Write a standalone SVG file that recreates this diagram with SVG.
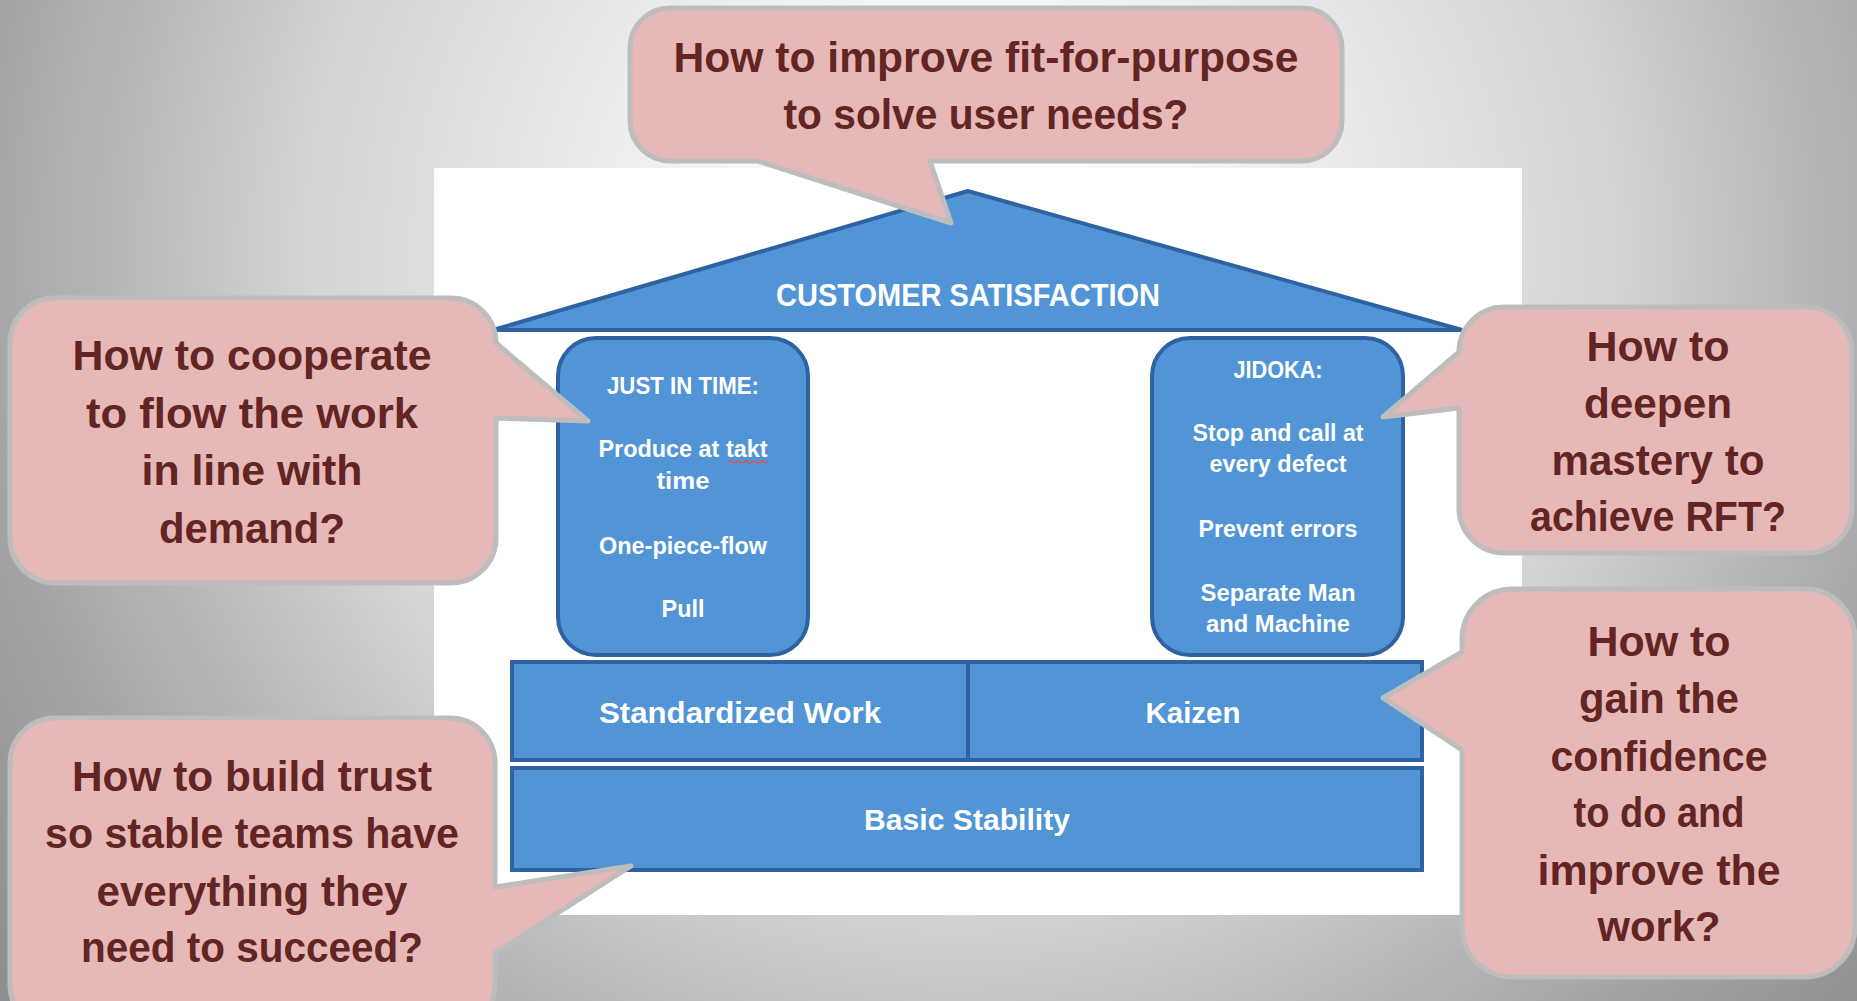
<svg xmlns="http://www.w3.org/2000/svg" width="1857" height="1001" viewBox="0 0 1857 1001">
  <defs>
    <radialGradient id="bg" gradientUnits="userSpaceOnUse" cx="960" cy="250" r="1220">
      <stop offset="0" stop-color="#ffffff"/>
      <stop offset="0.2" stop-color="#f6f6f6"/>
      <stop offset="0.36" stop-color="#e6e6e6"/>
      <stop offset="0.52" stop-color="#d6d6d6"/>
      <stop offset="0.81" stop-color="#a3a3a3"/>
      <stop offset="1" stop-color="#8e8e8e"/>
    </radialGradient>
    <style>
      .blue { fill: #5295d6; stroke: #2e62a0; stroke-width: 4; }
      .wt { fill: #ffffff; font-family: "Liberation Sans", Arial, sans-serif; font-weight: 700; text-anchor: middle; }
      .pt { font-size: 23px; }
      .rt { font-size: 30px; }
      .bubble { fill: #e6b8b7; stroke: #bdbdbd; stroke-width: 5; stroke-linejoin: round; }
      .bt { fill: #632523; font-family: "Liberation Sans", Arial, sans-serif; font-weight: 700; font-size: 43px; text-anchor: middle; }
    </style>
  </defs>

  <!-- backdrop -->
  <rect x="0" y="0" width="1857" height="1001" fill="url(#bg)"/>
  <rect x="434" y="168" width="1088" height="747" fill="#ffffff"/>

  <!-- house: roof -->
  <g id="roof">
    <polygon class="blue" points="968,191 493,330 1462,330"/>
    <text class="wt" x="968" y="306" font-size="31" textLength="384" lengthAdjust="spacingAndGlyphs">CUSTOMER SATISFACTION</text>
  </g>

  <!-- house: left pillar -->
  <g id="pillar-jit">
    <rect class="blue" x="558" y="338" width="250" height="317" rx="38" ry="38"/>
    <text class="wt pt" x="683" y="394" textLength="152" lengthAdjust="spacingAndGlyphs">JUST IN TIME:</text>
    <text class="wt pt" x="683" y="457" textLength="169" lengthAdjust="spacingAndGlyphs">Produce at takt</text>
    <path d="M728,462 q2,-2 4,0 t4,0 t4,0 t4,0 t4,0 t4,0 t4,0 t4,0 t4,0 t4,0" fill="none" stroke="#d9534f" stroke-width="1.3"/>
    <text class="wt pt" x="683" y="489" textLength="53" lengthAdjust="spacingAndGlyphs">time</text>
    <text class="wt pt" x="683" y="554" textLength="168" lengthAdjust="spacingAndGlyphs">One-piece-flow</text>
    <text class="wt pt" x="683" y="617" textLength="43" lengthAdjust="spacingAndGlyphs">Pull</text>
  </g>

  <!-- house: right pillar -->
  <g id="pillar-jidoka">
    <rect class="blue" x="1152" y="338" width="251" height="317" rx="38" ry="38"/>
    <text class="wt pt" x="1278" y="378" textLength="89" lengthAdjust="spacingAndGlyphs">JIDOKA:</text>
    <text class="wt pt" x="1278" y="441" textLength="171" lengthAdjust="spacingAndGlyphs">Stop and call at</text>
    <text class="wt pt" x="1278" y="472" textLength="137" lengthAdjust="spacingAndGlyphs">every defect</text>
    <text class="wt pt" x="1278" y="537" textLength="159" lengthAdjust="spacingAndGlyphs">Prevent errors</text>
    <text class="wt pt" x="1278" y="601" textLength="155" lengthAdjust="spacingAndGlyphs">Separate Man</text>
    <text class="wt pt" x="1278" y="632" textLength="144" lengthAdjust="spacingAndGlyphs">and Machine</text>
  </g>

  <!-- house: foundation rows -->
  <g id="standardized-work">
    <rect class="blue" x="512" y="662" width="456" height="98"/>
    <text class="wt rt" x="740" y="723" textLength="282" lengthAdjust="spacingAndGlyphs">Standardized Work</text>
  </g>
  <g id="kaizen">
    <rect class="blue" x="968" y="662" width="454" height="98"/>
    <text class="wt rt" x="1193" y="723" textLength="95" lengthAdjust="spacingAndGlyphs">Kaizen</text>
  </g>
  <g id="basic-stability">
    <rect class="blue" x="512" y="768" width="910" height="102"/>
    <text class="wt rt" x="967" y="830" textLength="206" lengthAdjust="spacingAndGlyphs">Basic Stability</text>
  </g>

  <g id="connectors"/>

  <!-- callouts -->
  <g id="callout-purpose">
    <path class="bubble" d="M670,8 H1302 A40,40 0 0 1 1342,48 V121 A40,40 0 0 1 1302,161 H930 L951,223 L758,161 H670 A40,40 0 0 1 630,121 V48 A40,40 0 0 1 670,8 Z"/>
    <text class="bt" x="986" y="72" textLength="625" lengthAdjust="spacingAndGlyphs">How to improve fit-for-purpose</text>
    <text class="bt" x="986" y="129" textLength="405" lengthAdjust="spacingAndGlyphs">to solve user needs?</text>
  </g>

  <g id="callout-flow">
    <path class="bubble" d="M55,298 H451 A45,45 0 0 1 496,343 L588,421 L496,418 V538 A45,45 0 0 1 451,583 H55 A45,45 0 0 1 10,538 V343 A45,45 0 0 1 55,298 Z"/>
    <text class="bt" x="252" y="370" textLength="359" lengthAdjust="spacingAndGlyphs">How to cooperate</text>
    <text class="bt" x="252" y="428" textLength="332" lengthAdjust="spacingAndGlyphs">to flow the work</text>
    <text class="bt" x="252" y="485" textLength="221" lengthAdjust="spacingAndGlyphs">in line with</text>
    <text class="bt" x="252" y="543" textLength="186" lengthAdjust="spacingAndGlyphs">demand?</text>
  </g>

  <g id="callout-mastery">
    <path class="bubble" d="M1504,307 H1807 A45,45 0 0 1 1852,352 V508 A45,45 0 0 1 1807,553 H1504 A45,45 0 0 1 1459,508 V408 L1383,417 L1459,352 A45,45 0 0 1 1504,307 Z"/>
    <text class="bt" x="1658" y="361" textLength="143" lengthAdjust="spacingAndGlyphs">How to</text>
    <text class="bt" x="1658" y="418" textLength="148" lengthAdjust="spacingAndGlyphs">deepen</text>
    <text class="bt" x="1658" y="475" textLength="213" lengthAdjust="spacingAndGlyphs">mastery to</text>
    <text class="bt" x="1658" y="531" textLength="256" lengthAdjust="spacingAndGlyphs">achieve RFT?</text>
  </g>

  <g id="callout-confidence">
    <path class="bubble" d="M1512,589 H1805 A50,50 0 0 1 1855,639 V927 A50,50 0 0 1 1805,977 H1512 A50,50 0 0 1 1462,927 V750 L1383,698 L1462,652 V639 A50,50 0 0 1 1512,589 Z"/>
    <text class="bt" x="1659" y="656" textLength="143" lengthAdjust="spacingAndGlyphs">How to</text>
    <text class="bt" x="1659" y="713" textLength="160" lengthAdjust="spacingAndGlyphs">gain the</text>
    <text class="bt" x="1659" y="771" textLength="217" lengthAdjust="spacingAndGlyphs">confidence</text>
    <text class="bt" x="1659" y="827" textLength="171" lengthAdjust="spacingAndGlyphs">to do and</text>
    <text class="bt" x="1659" y="885" textLength="243" lengthAdjust="spacingAndGlyphs">improve the</text>
    <text class="bt" x="1659" y="941" textLength="123" lengthAdjust="spacingAndGlyphs">work?</text>
  </g>

  <g id="callout-trust">
    <path class="bubble" d="M55,718 H450 A45,45 0 0 1 495,763 V887 L631,866 L495,953 V985 A45,45 0 0 1 450,1030 H55 A45,45 0 0 1 10,985 V763 A45,45 0 0 1 55,718 Z"/>
    <text class="bt" x="252" y="791" textLength="360" lengthAdjust="spacingAndGlyphs">How to build trust</text>
    <text class="bt" x="252" y="848" textLength="414" lengthAdjust="spacingAndGlyphs">so stable teams have</text>
    <text class="bt" x="252" y="906" textLength="311" lengthAdjust="spacingAndGlyphs">everything they</text>
    <text class="bt" x="252" y="962" textLength="342" lengthAdjust="spacingAndGlyphs">need to succeed?</text>
  </g>
</svg>
